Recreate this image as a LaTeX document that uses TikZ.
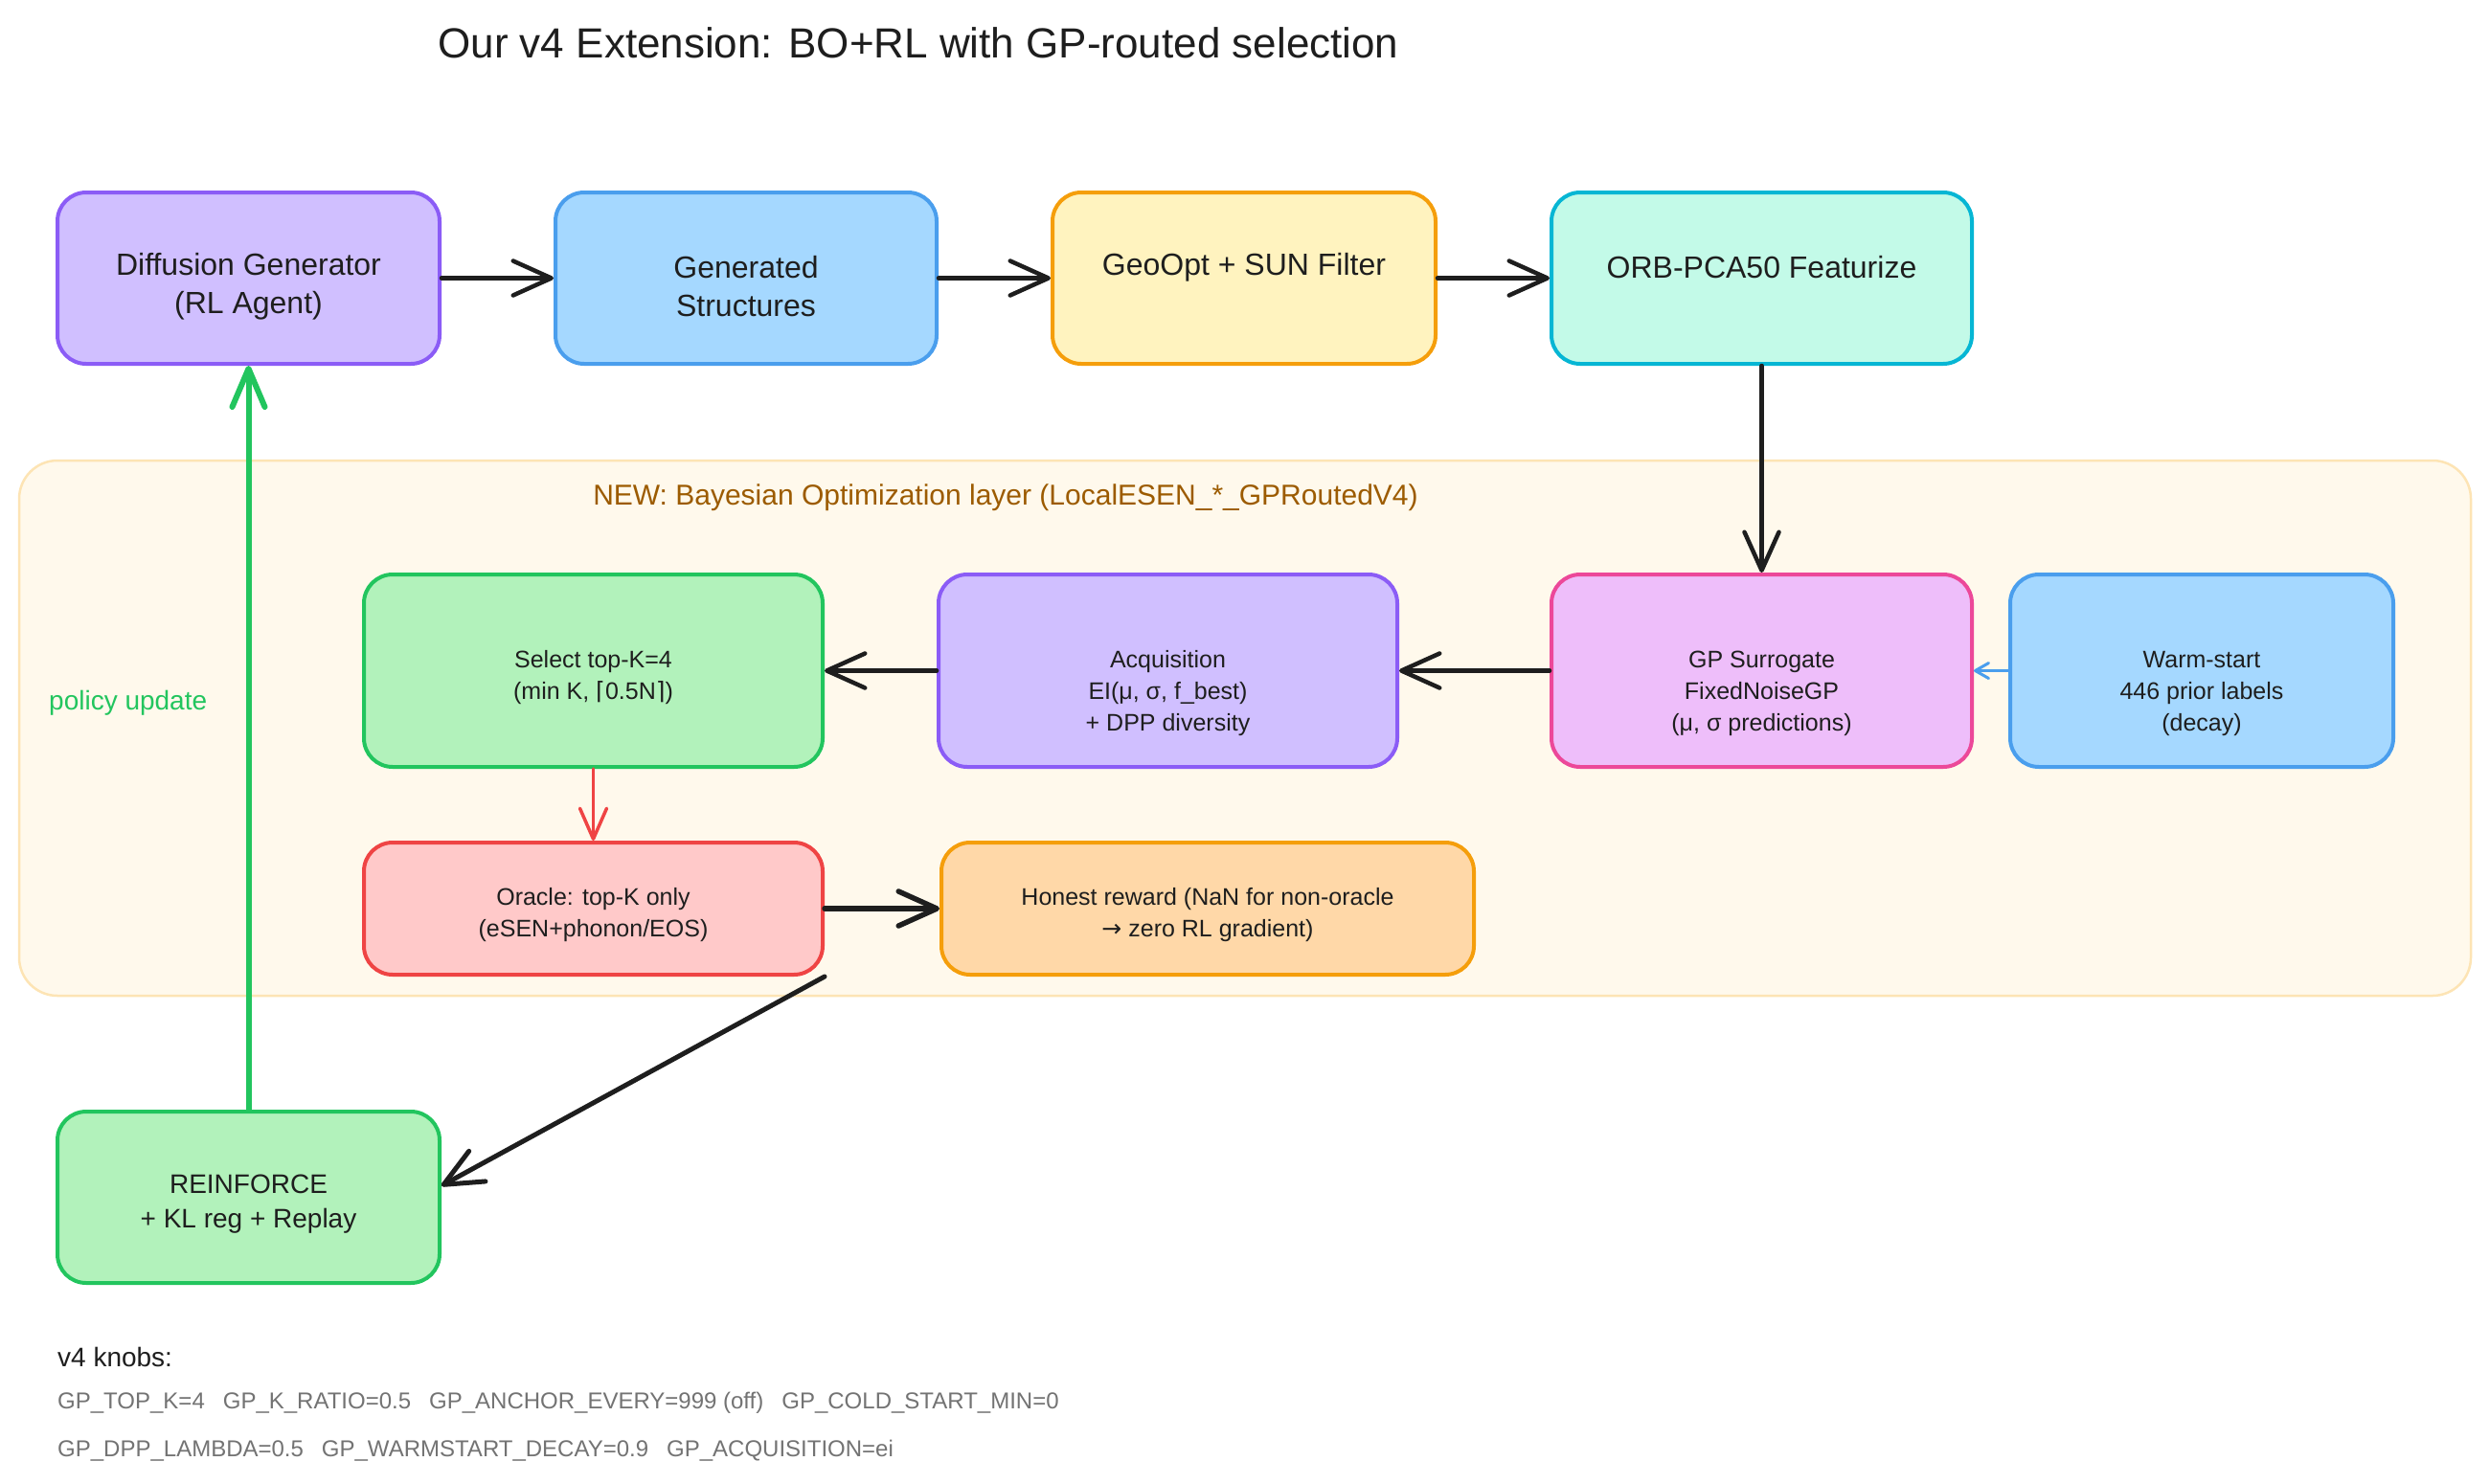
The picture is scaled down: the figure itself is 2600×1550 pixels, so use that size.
\documentclass[tikz,border=0pt]{standalone}
\usepackage{fontspec}
\setmainfont{Liberation Sans}
\newfontfamily\symfont{DejaVu Sans}
\usetikzlibrary{arrows.meta}
\definecolor{ink}{HTML}{1E1E1E}
\definecolor{violetS}{HTML}{8B5CF6}
\definecolor{violetF}{HTML}{D0BFFF}
\definecolor{blueS}{HTML}{4A9EED}
\definecolor{blueF}{HTML}{A5D8FF}
\definecolor{amberS}{HTML}{F59E0B}
\definecolor{yellowF}{HTML}{FFF3BF}
\definecolor{cyanS}{HTML}{06B6D4}
\definecolor{mintF}{HTML}{C3FAE8}
\definecolor{pinkS}{HTML}{EC4899}
\definecolor{pinkF}{HTML}{EEBEFA}
\definecolor{greenS}{HTML}{22C55E}
\definecolor{greenF}{HTML}{B2F2BB}
\definecolor{redS}{HTML}{EF4444}
\definecolor{redF}{HTML}{FFC9C9}
\definecolor{orangeF}{HTML}{FFD8A8}
\definecolor{layerF}{HTML}{FFF9EC}
\definecolor{layerS}{HTML}{FDE4B4}
\definecolor{layerT}{HTML}{9C5B00}
\definecolor{knobT}{HTML}{737373}
\begin{document}
\begin{tikzpicture}[x=1pt,y=-1pt,
  box/.style={rounded corners=30pt, line width=4pt, inner sep=0pt},
  bigtxt/.style={text=ink, align=center, inner sep=0pt, font=\fontsize{32}{40}\selectfont},
  midtxt/.style={text=ink, align=center, inner sep=0pt, font=\fontsize{28}{36}\selectfont},
  smalltxt/.style={text=ink, align=center, inner sep=0pt, font=\fontsize{25}{33}\selectfont},
  flow/.style={draw=ink, line width=4.5pt, line cap=round, -{Straight Barb[round,length=40pt,width=36pt]}},
  greenflow/.style={draw=greenS, line width=6pt, line cap=round, -{Straight Barb[round,length=40pt,width=34pt]}},
  redflow/.style={draw=redS, line width=3.5pt, line cap=round, -{Straight Barb[round,length=32pt,width=28pt]}},
  blueflow/.style={draw=blueS, line width=3pt, line cap=round, -{Straight Barb[round,length=14pt,width=16pt]}},
]
\useasboundingbox[fill=white] (0,0) rectangle (2600,1550);

% title
\node[font=\fontsize{44}{52}\selectfont, text=ink] (title) at (959,45) {Our v4 Extension: BO+RL with GP-routed selection};

% BO layer background
\node[draw=layerS, fill=layerF, line width=2.5pt, rounded corners=40pt,
      minimum width=2560pt, minimum height=559pt, inner sep=0pt] (layer) at (1300,760.5) {};
\node[font=\fontsize{30}{36}\selectfont, text=layerT] (layertitle) at (1050,520)
  {NEW: Bayesian Optimization layer (LocalESEN\_*\_GPRoutedV4)};
\node[font=\fontsize{28}{34}\selectfont, text=greenS, anchor=west, inner sep=0pt] (pu) at (51,734) {policy update};

% top row
\node[box, draw=violetS, fill=violetF, minimum width=399pt, minimum height=179pt] (gen) at (259.5,290.5) {};
\node[bigtxt] (genT) at (259.5,299) {Diffusion Generator\\(RL Agent)};
\node[box, draw=blueS, fill=blueF, minimum width=398pt, minimum height=179pt] (struct) at (779,290.5) {};
\node[bigtxt] (structT) at (779,299) {Generated\\Structures};
\node[box, draw=amberS, fill=yellowF, minimum width=400pt, minimum height=179pt] (geo) at (1299,290.5) {};
\node[bigtxt] (geoT) at (1299,279) {GeoOpt + SUN Filter};
\node[box, draw=cyanS, fill=mintF, minimum width=439pt, minimum height=179pt] (orb) at (1839.5,290.5) {};
\node[bigtxt] (orbT) at (1839.5,279) {ORB-PCA50 Featurize};

% BO row
\node[box, draw=pinkS, fill=pinkF, minimum width=439pt, minimum height=201pt] (gp) at (1839.5,700.5) {};
\node[smalltxt] (gpT) at (1839.5,724) {GP Surrogate\\FixedNoiseGP\\(μ, σ predictions)};
\node[box, draw=blueS, fill=blueF, minimum width=400pt, minimum height=201pt] (warm) at (2299,700.5) {};
\node[smalltxt] (warmT) at (2299,724) {Warm-start\\446 prior labels\\(decay)};
\node[box, draw=violetS, fill=violetF, minimum width=479pt, minimum height=201pt] (acq) at (1219.5,700.5) {};
\node[smalltxt] (acqT) at (1219.5,724) {Acquisition\\EI(μ, σ, f\_best)\\+ DPP diversity};
\node[box, draw=greenS, fill=greenF, minimum width=479pt, minimum height=201pt] (sel) at (619.5,700.5) {};
\node[smalltxt] (selT) at (619.5,708) {Select top-K=4\\(min K, {\symfont ⌈}0.5N{\symfont ⌉})};
\node[box, draw=redS, fill=redF, minimum width=479pt, minimum height=138pt] (oracle) at (619.5,949) {};
\node[smalltxt] (oracleT) at (619.5,956) {Oracle: top-K only\\(eSEN+phonon/EOS)};
\node[box, draw=amberS, fill=orangeF, minimum width=556pt, minimum height=138pt] (honest) at (1261,949) {};
\node[smalltxt] (honestT) at (1261,956) {Honest reward (NaN for non-oracle\\{\symfont →} zero RL gradient)};

% REINFORCE
\node[box, draw=greenS, fill=greenF, minimum width=399pt, minimum height=179pt] (rf) at (259.5,1250.5) {};
\node[midtxt] (rfT) at (259.5,1258) {REINFORCE\\+ KL reg + Replay};

% connectors
\draw[flow] (gen.east) -- (struct.west);
\draw[flow] (struct.east) -- (geo.west);
\draw[flow] (geo.east) -- (orb.west);
\draw[flow] (orb.south) -- (gp.north);
\draw[flow] (gp.west) -- (acq.east);
\draw[flow] (acq.west) -- (sel.east);
\draw[blueflow] (warm.west) -- (gp.east);
\draw[redflow] (sel.south) -- (oracle.north);
\draw[flow, line width=5.5pt] (oracle.east) -- (honest.west);
\draw[flow, line width=5pt] (oracle.south east) -- ([yshift=12pt]rf.east);
\draw[greenflow] (rf.north) -- (gen.south);

% knobs
\node[anchor=west, inner sep=0pt, font=\fontsize{28}{34}\selectfont, text=ink] (kn) at (60,1417) {v4 knobs:};
\node[anchor=west, inner sep=0pt, font=\fontsize{24}{30}\selectfont, text=knobT] (k1) at (60,1465)
  {GP\_TOP\_K=4\hspace{19pt}GP\_K\_RATIO=0.5\hspace{19pt}GP\_ANCHOR\_EVERY=999 (off)\hspace{19pt}GP\_COLD\_START\_MIN=0};
\node[anchor=west, inner sep=0pt, font=\fontsize{24}{30}\selectfont, text=knobT] (k2) at (60,1515)
  {GP\_DPP\_LAMBDA=0.5\hspace{19pt}GP\_WARMSTART\_DECAY=0.9\hspace{19pt}GP\_ACQUISITION=ei};
\end{tikzpicture}
\end{document}
